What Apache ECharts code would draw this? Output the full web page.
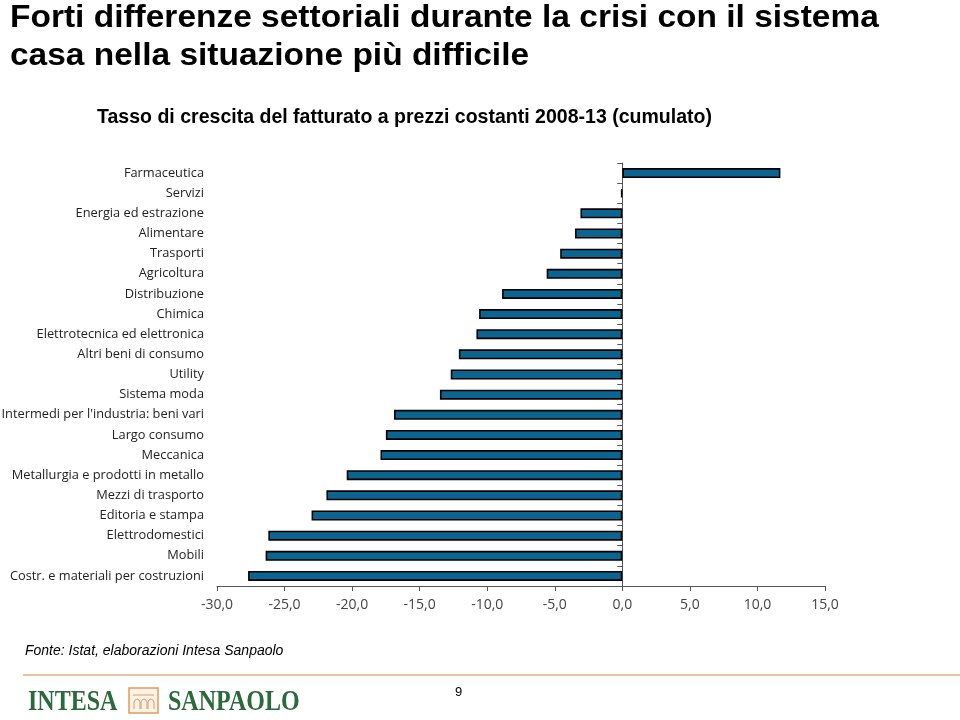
<!DOCTYPE html>
<html>
<head>
<meta charset="utf-8">
<script src="https://cdn.jsdelivr.net/npm/echarts@6/dist/echarts.min.js"></script>
<style>
  html, body { margin: 0; padding: 0; background: #fff; }
  #chart { width: 960px; height: 720px; }
</style>
</head>
<body>
<div id="chart"></div>
<script>
// settori, dall'alto verso il basso
var categories = [
  'Farmaceutica', 'Servizi', 'Energia ed estrazione', 'Alimentare', 'Trasporti',
  'Agricoltura', 'Distribuzione', 'Chimica', 'Elettrotecnica ed elettronica',
  'Altri beni di consumo', 'Utility', 'Sistema moda',
  "Intermedi per l'industria: beni vari", 'Largo consumo', 'Meccanica',
  'Metallurgia e prodotti in metallo', 'Mezzi di trasporto', 'Editoria e stampa',
  'Elettrodomestici', 'Mobili', 'Costr. e materiali per costruzioni'
];
// tasso di crescita cumulato 2008-13 (%)
var values = [
  11.7, -0.1, -3.1, -3.5, -4.6,
  -5.6, -8.9, -10.6, -10.8,
  -12.1, -12.7, -13.5,
  -16.9, -17.5, -17.9,
  -20.4, -21.9, -23.0,
  -26.2, -26.4, -27.7
];
var xMin = -30, xMax = 15, xStep = 5;

var ORANGE = '#e39a57';
var GREEN = '#2b6a3a';

function txt(x, y, text, font, scaleX) {
  return {
    type: 'text', x: x, y: y, scaleX: scaleX || 1,
    style: { text: text, font: font, fill: '#000', textAlign: 'left', textVerticalAlign: 'middle' }
  };
}

var chart = echarts.init(document.getElementById('chart'));

chart.setOption({
  animation: false,
  grid: {
    left: 217, right: 135, top: 163, bottom: 134,
    containLabel: false, outerBoundsMode: 'none'
  },
  xAxis: {
    type: 'value',
    min: xMin, max: xMax, interval: xStep,
    axisLine: { show: true, lineStyle: { color: '#555', width: 1 } },
    axisTick: { show: true, length: 5, lineStyle: { color: '#555' } },
    splitLine: { show: false },
    axisLabel: {
      margin: 12,
      fontFamily: 'Open Sans', fontSize: 14, color: '#444',
      formatter: function (v) { return v.toFixed(1).replace('.', ','); }
    }
  },
  yAxis: [
    {
      // etichette dei settori a sinistra
      type: 'category',
      data: categories,
      inverse: true,
      position: 'left',
      axisLine: { show: false, onZero: false },
      axisTick: { show: false },
      axisLabel: {
        margin: 13,
        fontFamily: 'Open Sans', fontSize: 12.8, color: '#222'
      }
    },
    {
      // asse verticale sullo zero con le tacche
      type: 'category',
      data: categories,
      inverse: true,
      position: 'right',
      axisLine: { show: true, onZero: true, lineStyle: { color: '#555', width: 1 } },
      axisTick: { show: true, inside: true, length: 5, interval: 0, lineStyle: { color: '#555' } },
      axisLabel: { show: false }
    }
  ],
  series: [
    {
      type: 'bar',
      yAxisIndex: 0,
      data: values,
      barWidth: 10,
      itemStyle: {
        color: '#0b6590',
        borderColor: '#000',
        borderWidth: 1.6
      }
    }
  ],
  graphic: [
    txt(10, 18, 'Forti differenze settoriali durante la crisi con il sistema', 'bold 31px "Liberation Sans"', 1.08),
    txt(10, 56, 'casa nella situazione più difficile', 'bold 31px "Liberation Sans"', 1.08),
    txt(97, 117, 'Tasso di crescita del fatturato a prezzi costanti 2008-13 (cumulato)', 'bold 21px "Liberation Sans"', 0.93),
    txt(25, 651, 'Fonte: Istat, elaborazioni Intesa Sanpaolo', 'italic 14px "Liberation Sans"', 1),
    txt(455, 692.5, '9', '13px "Liberation Sans"', 1),
    {
      type: 'line',
      shape: { x1: 23, y1: 675, x2: 960, y2: 675 },
      style: { stroke: '#e9ab7c', lineWidth: 1.5 }
    },
    {
      type: 'text', x: 28, y: 702, scaleX: 0.8,
      style: { text: 'INTESA', font: 'bold 30px "Liberation Serif"', fill: GREEN, textAlign: 'left', textVerticalAlign: 'middle' }
    },
    {
      type: 'rect',
      shape: { x: 129, y: 688, width: 29, height: 25 },
      style: { fill: '#fbf3e8', stroke: ORANGE, lineWidth: 1.5 }
    },
    {
      type: 'line',
      shape: { x1: 133, y1: 695, x2: 154, y2: 695 },
      style: { stroke: ORANGE, lineWidth: 1 }
    },
    {
      type: 'polyline',
      shape: { points: [[134, 709], [134, 702], [135, 700], [137, 699], [139, 700], [140, 702], [140, 709]] },
      style: { fill: 'none', stroke: ORANGE, lineWidth: 1 }
    },
    {
      type: 'polyline',
      shape: { points: [[141, 709], [141, 702], [142, 700], [144, 699], [146, 700], [147, 702], [147, 709]] },
      style: { fill: 'none', stroke: ORANGE, lineWidth: 1 }
    },
    {
      type: 'polyline',
      shape: { points: [[148, 709], [148, 702], [149, 700], [151, 699], [153, 700], [154, 702], [154, 709]] },
      style: { fill: 'none', stroke: ORANGE, lineWidth: 1 }
    },
    {
      type: 'text', x: 168, y: 702, scaleX: 0.8,
      style: { text: 'SANPAOLO', font: 'bold 30px "Liberation Serif"', fill: GREEN, textAlign: 'left', textVerticalAlign: 'middle' }
    }
  ]
});
</script>
</body>
</html>
